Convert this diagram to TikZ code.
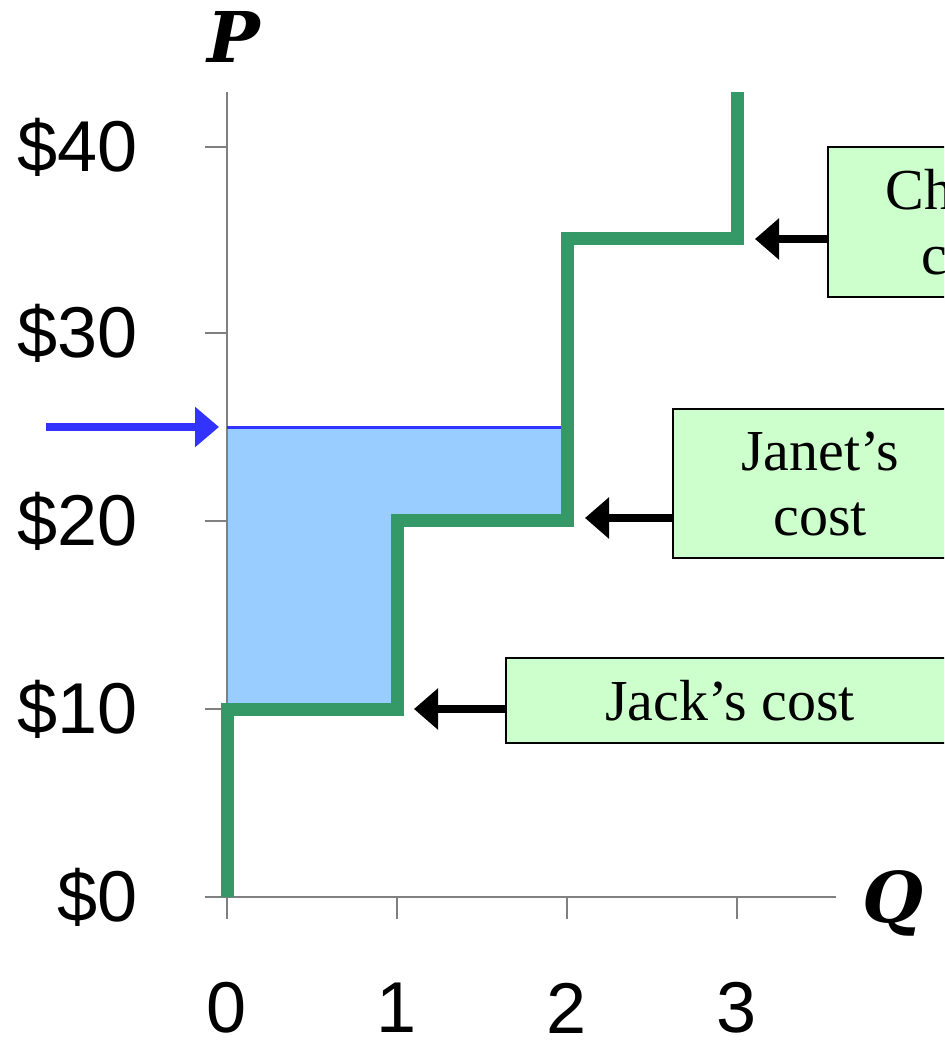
\documentclass[tikz,border=0pt]{standalone}
\usepackage{fontspec}
\setmainfont{Liberation Serif}
\newfontfamily\arialf{Liberation Sans}
\newfontfamily\pqf{DejaVu Serif}
\usetikzlibrary{arrows.meta}
\definecolor{stepgreen}{RGB}{52,153,102}
\definecolor{areablue}{RGB}{153,204,255}
\definecolor{arrowblue}{RGB}{51,51,255}
\definecolor{boxgreen}{RGB}{204,255,204}
\definecolor{axisgray}{RGB}{128,128,128}
\begin{document}
\begin{tikzpicture}[x=1pt,y=-1pt,
  costbox/.style={draw=black,line width=2pt,fill=boxgreen,inner sep=0pt,
    font=\fontsize{58}{65}\selectfont,align=center},
  ptick/.style={anchor=east,inner sep=0pt,font=\arialf\fontsize{72}{80}\selectfont},
  qtick/.style={inner sep=0pt,font=\arialf\fontsize{72}{80}\selectfont},
  axlab/.style={anchor=base,inner sep=0pt,font=\pqf\bfseries\itshape\fontsize{70}{80}\selectfont},
  pointer/.style={line width=8pt,-{Triangle[length=24pt,width=40pt]}},
  axisline/.style={axisgray,line width=2pt},
  stepline/.style={stepgreen,line width=13pt,miter limit=10},
]
\useasboundingbox (0,0) rectangle (944,1040);
\clip (0,0) rectangle (944,1040);

% shaded surplus area
\fill[areablue] (227,427) -- (567,427) -- (567,520) -- (397,520) -- (397,709) -- (227,709) -- cycle;

% axes
\draw[axisline] (227,92) -- (227,897);
\draw[axisline] (205,897) -- (836,897);
\foreach \yy in {709,521,333,147} \draw[axisline] (205,\yy) -- (227,\yy);
\foreach \xx in {227,397,567,737} \draw[axisline] (\xx,897) -- (\xx,919);

% price labels
\node[ptick] (p0) at (138,897) {\$0};
\node[ptick] (p10) at (138,709) {\$10};
\node[ptick] (p20) at (138,521) {\$20};
\node[ptick] (p30) at (138,333) {\$30};
\node[ptick] (p40) at (138,147) {\$40};

% quantity labels
\node[qtick] (q0) at (227,1008) {0};
\node[qtick] (q1) at (397,1008) {1};
\node[qtick] (q2) at (567,1008) {2};
\node[qtick] (q3) at (737,1008) {3};

% axis names
\node[axlab] (plab) at (234,63) {P};
\node[axlab] (qlab) at (893,922) {Q};

% price line
\draw[arrowblue,line width=3pt] (227,427) -- (562,427);
\coordinate (bstart) at (46,427);
\coordinate (btip) at (219,427);
\draw[pointer,arrowblue,-{Triangle[length=24pt,width=39pt]}] (bstart) -- (btip);

% supply step curve
\draw[stepline] (227,897) -- (227,709) -- (397,709) -- (397,520) -- (567,520)
  -- (567,239) -- (737,239) -- (737,92);

% cost boxes
\node[costbox,minimum width=448pt,minimum height=85pt] (jack) at (730,700.5) {Jack’s cost};
\node[costbox,minimum width=294pt,minimum height=149pt] (janet) at (820,483.5) {Janet’s\\cost};
\node[costbox,minimum width=280pt,minimum height=150pt] (chris) at (968,222) {Chris’s\\cost};

% pointers
\coordinate (jacktip) at (414,709);
\coordinate (janettip) at (585,518);
\coordinate (christip) at (755,239);
\draw[pointer] (jack.west |- jacktip) -- (jacktip);
\draw[pointer] (janet.west |- janettip) -- (janettip);
\draw[pointer] (chris.west |- christip) -- (christip);
\end{tikzpicture}
\end{document}
